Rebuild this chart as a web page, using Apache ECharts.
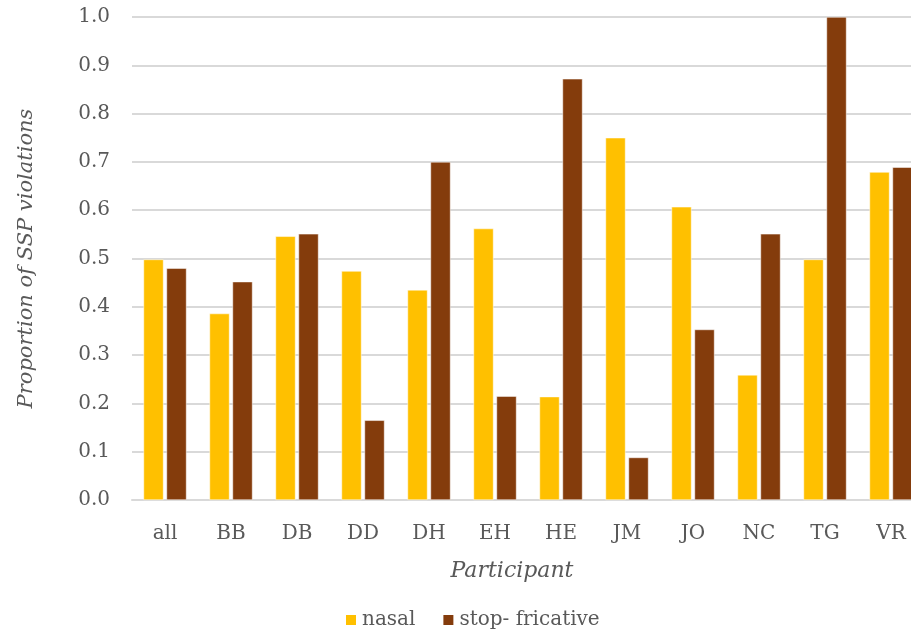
<!DOCTYPE html>
<html>
<head>
<meta charset="utf-8">
<script src="https://cdn.jsdelivr.net/npm/echarts@6/dist/echarts.min.js"></script>
<style>
  html, body { margin: 0; padding: 0; background: #fff; }
  #chart { width: 911px; height: 635px; }
</style>
</head>
<body>
<div id="chart"></div>
<script>
// participants on the x axis
const participants = ['all', 'BB', 'DB', 'DD', 'DH', 'EH', 'HE', 'JM', 'JO', 'NC', 'TG', 'VR'];
// proportion of SSP violations
const nasal = [0.498, 0.386, 0.546, 0.474, 0.435, 0.562, 0.214, 0.750, 0.607, 0.259, 0.498, 0.679];
const stopFricative = [0.480, 0.452, 0.551, 0.165, 0.700, 0.215, 0.872, 0.088, 0.353, 0.551, 1.000, 0.689];
const seriesNames = ['nasal', 'stop- fricative'];

const FONT = '"DejaVu Serif", serif';
const TEXT = '#595959';
const GRID = '#d9d9d9';

const chart = echarts.init(document.getElementById('chart'), null, { renderer: 'canvas' });

chart.setOption({
  animation: false,
  backgroundColor: '#fff',
  textStyle: { fontFamily: FONT },
  // plot runs past the right edge, like the cropped original
  grid: { left: 132, top: 17, width: 792, height: 483, outerBoundsMode: 'none', containLabel: false },
  legend: {
    data: seriesNames,
    bottom: 0, left: 339,
    itemWidth: 12, itemHeight: 12, itemGap: 26,
    icon: 'rect',
    textStyle: { color: TEXT, fontSize: 20, fontFamily: FONT }
  },
  xAxis: {
    type: 'category',
    data: participants,
    name: 'Participant',
    nameLocation: 'middle', nameGap: 60,
    nameTextStyle: { color: TEXT, fontSize: 22, fontStyle: 'italic', fontFamily: FONT, padding: [0, 32, 0, 0] },
    axisLine: { lineStyle: { color: GRID, width: 2 } },
    axisTick: { show: false },
    axisLabel: { color: TEXT, fontSize: 20, margin: 24, fontFamily: FONT }
  },
  yAxis: {
    type: 'value',
    min: 0, max: 1, interval: 0.1,
    name: 'Proportion of SSP violations',
    nameLocation: 'middle', nameGap: 95,
    nameTextStyle: { color: TEXT, fontSize: 21, fontStyle: 'italic', fontFamily: FONT },
    axisLine: { show: false },
    axisTick: { show: false },
    axisLabel: { color: TEXT, fontSize: 20, margin: 22, fontFamily: FONT, formatter: v => v.toFixed(1) },
    splitLine: { lineStyle: { color: GRID, width: 2 } }
  },
  series: [
    {
      name: seriesNames[0], type: 'bar', data: nasal,
      barWidth: 20, barGap: '15%',
      itemStyle: { color: '#ffc000', borderColor: '#fff', borderWidth: 0.5 }
    },
    {
      name: seriesNames[1], type: 'bar', data: stopFricative,
      barWidth: 20, barGap: '15%',
      itemStyle: { color: '#843c0c', borderColor: '#fff', borderWidth: 0.5 }
    }
  ]
});
</script>
</body>
</html>
